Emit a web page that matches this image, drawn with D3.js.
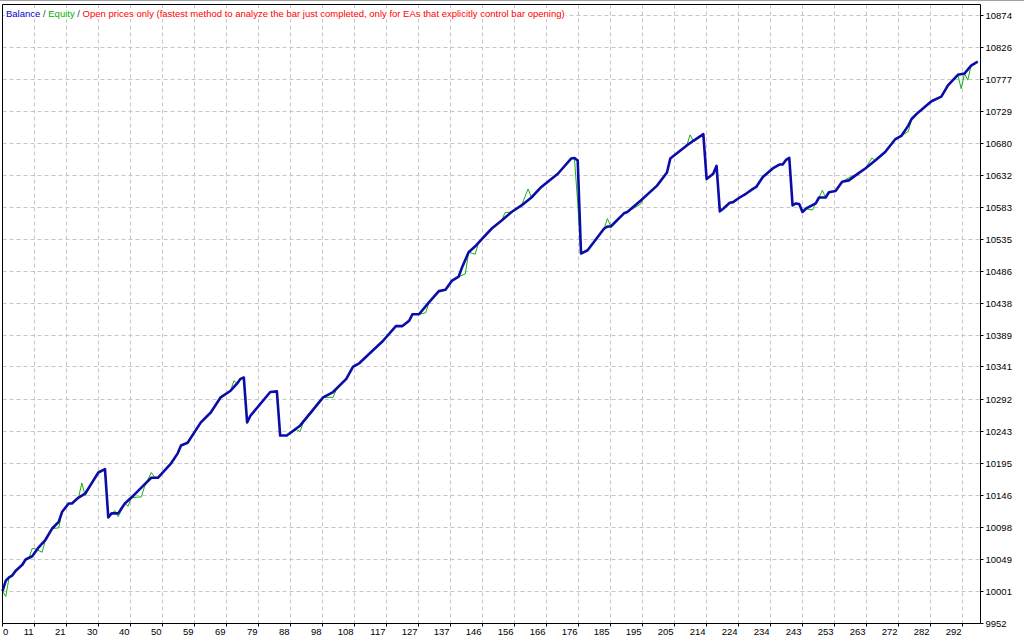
<!DOCTYPE html>
<html>
<head>
<meta charset="utf-8">
<script src="https://cdn.jsdelivr.net/npm/d3@7"></script>
<style>
  body { margin: 0; background: #fff; }
  svg { display: block; }
  text { font-family: "Liberation Sans", Arial, sans-serif; }
</style>
</head>
<body>
<svg id="chart" width="1024" height="640"></svg>
<script>
// balance curve (trade number, account balance)
const tradeNo = [0, 1, 2, 3, 4, 6, 7, 9, 11, 13, 15, 17, 18, 20, 21, 23, 25, 29, 31, 32,
  33, 35, 37, 39, 42, 45, 47, 51, 53, 54, 56, 60, 63, 66, 69, 71, 72, 73, 74, 75,
  81, 83, 84, 86, 90, 97, 100, 104, 106, 108, 112, 115, 119, 121, 123, 124, 126, 129, 132, 134,
  136, 138, 139, 141, 143, 145, 148, 151, 154, 157, 160, 163, 168, 172, 173, 174, 175, 177, 182, 183,
  184, 188, 189, 193, 198, 201, 202, 207, 209, 212, 213, 215, 216, 217, 218, 220, 221, 223, 225, 227,
  228, 230, 233, 235, 236, 237, 238, 239, 240, 241, 242, 243, 246, 247, 249, 250, 252, 254, 256, 259,
  261, 264, 267, 270, 272, 274, 275, 277, 278, 281, 284, 286, 289, 291, 293, 295];
const balance = [10001, 10017, 10022, 10025, 10032, 10041, 10049, 10054, 10068, 10079, 10096, 10106, 10121, 10134, 10134, 10143, 10149, 10181, 10186, 10113,
  10119, 10119, 10134, 10143, 10158, 10173, 10173, 10195, 10210, 10222, 10226, 10257, 10272, 10295, 10305, 10316, 10323, 10325, 10257, 10267,
  10303, 10304, 10237, 10237, 10252, 10295, 10303, 10323, 10341, 10347, 10366, 10380, 10403, 10403, 10411, 10421, 10421, 10439, 10456, 10458,
  10472, 10478, 10492, 10515, 10524, 10535, 10551, 10563, 10576, 10586, 10598, 10614, 10634, 10657, 10658, 10654, 10513, 10518, 10551, 10554,
  10554, 10574, 10576, 10593, 10616, 10636, 10657, 10677, 10684, 10694, 10626, 10634, 10646, 10577, 10581, 10590, 10591, 10598, 10604, 10611,
  10614, 10629, 10642, 10648, 10648, 10655, 10658, 10586, 10589, 10588, 10576, 10581, 10589, 10598, 10598, 10606, 10608, 10622, 10624, 10635,
  10642, 10654, 10667, 10686, 10692, 10707, 10717, 10727, 10731, 10744, 10751, 10768, 10784, 10786, 10798, 10804];

// equity curve (follows balance, with the floating dips and spikes)
const equityTradeNo = [0, 1, 2, 3, 4, 6, 7, 8, 9, 10, 12, 13, 15, 17, 18, 20, 21, 23, 24, 25,
  29, 31, 32, 33, 34, 35, 37, 38, 39, 42, 43, 45, 46, 47, 51, 53, 54, 56, 60, 63,
  66, 69, 70, 71, 72, 73, 74, 75, 81, 83, 84, 86, 89, 90, 91, 94, 95, 97, 100, 101,
  104, 106, 108, 112, 115, 119, 121, 123, 124, 126, 128, 129, 132, 134, 136, 138, 140, 141, 143, 144,
  145, 148, 151, 152, 154, 157, 159, 160, 163, 168, 172, 173, 174, 175, 177, 182, 183, 184, 188, 189,
  193, 194, 198, 201, 202, 207, 208, 209, 212, 213, 215, 216, 217, 218, 220, 221, 223, 225, 227, 228,
  230, 233, 235, 236, 237, 238, 239, 240, 241, 242, 243, 245, 246, 247, 248, 249, 250, 252, 254, 256,
  259, 261, 263, 264, 267, 270, 272, 274, 275, 277, 278, 281, 284, 286, 289, 290, 291, 292, 293, 295];
const equity = [10001, 9993, 10022, 10025, 10032, 10041, 10049, 10051, 10066, 10065, 10060, 10079, 10096, 10097, 10121, 10134, 10134, 10143, 10165, 10146,
  10181, 10186, 10113, 10119, 10123, 10114, 10134, 10130, 10143, 10144, 10160, 10181, 10174, 10173, 10195, 10210, 10222, 10226, 10257, 10272,
  10295, 10305, 10320, 10316, 10323, 10325, 10257, 10267, 10303, 10304, 10237, 10237, 10246, 10243, 10257, 10274, 10285, 10295, 10295, 10307,
  10323, 10341, 10347, 10366, 10380, 10403, 10403, 10411, 10421, 10421, 10423, 10439, 10456, 10458, 10472, 10478, 10482, 10515, 10512, 10530,
  10535, 10551, 10563, 10575, 10576, 10586, 10611, 10598, 10614, 10634, 10657, 10658, 10590, 10513, 10518, 10551, 10566, 10554, 10574, 10576,
  10588, 10598, 10616, 10636, 10657, 10677, 10693, 10684, 10694, 10626, 10634, 10646, 10577, 10581, 10590, 10591, 10598, 10604, 10611, 10614,
  10629, 10642, 10648, 10648, 10655, 10658, 10586, 10589, 10588, 10576, 10581, 10579, 10589, 10598, 10609, 10598, 10606, 10608, 10622, 10628,
  10635, 10642, 10658, 10654, 10667, 10686, 10692, 10698, 10717, 10727, 10731, 10744, 10751, 10768, 10784, 10763, 10786, 10776, 10798, 10804];

const yTickLabels = [9952, 10001, 10049, 10098, 10146, 10195, 10243, 10292, 10341, 10389,
  10438, 10486, 10535, 10583, 10632, 10680, 10729, 10777, 10826, 10874];
const xTickLabels = [0, 11, 21, 30, 40, 50, 59, 69, 79, 88, 98, 108, 117, 127, 137, 146,
  156, 166, 176, 185, 195, 205, 214, 224, 234, 243, 253, 263, 272, 282, 292];

const svg = d3.select('#chart');

const plotLeft = 2.5, plotRight = 980.5, plotTop = 4.5, plotBottom = 623.5;
const gridStep = 9.68; // trades between two vertical gridlines (32px)

const x = d3.scaleLinear().domain([0, 296]).range([plotLeft, plotLeft + 296 * 32 / gridStep]);
const y = d3.scaleLinear().domain([9952, 10874]).range([plotBottom, 15.5]);
const snap = v => Math.round(v - 0.5) + 0.5;
const xTickPos = xTickLabels.map((d, i) => i * gridStep);

// window strip at the very top
svg.append('rect').attr('width', 1024).attr('height', 1).attr('fill', '#a0a0a0');

// grid
const grid = svg.append('g')
  .attr('stroke', '#c6c6c6')
  .attr('stroke-dasharray', '4,3')
  .attr('fill', 'none');
grid.selectAll('line.h')
  .data(yTickLabels.slice(1))
  .join('line')
    .attr('class', 'h')
    .attr('x1', plotLeft).attr('x2', plotRight)
    .attr('y1', d => snap(y(d))).attr('y2', d => snap(y(d)));
grid.selectAll('line.v')
  .data(xTickPos.slice(1))
  .join('line')
    .attr('class', 'v')
    .attr('x1', d => snap(x(d))).attr('x2', d => snap(x(d)))
    .attr('y1', plotTop).attr('y2', plotBottom);

// curves
const line = d3.line()
  .x(d => x(d[0]))
  .y(d => y(d[1]));

svg.append('path')
  .datum(d3.zip(equityTradeNo, equity))
  .attr('fill', 'none')
  .attr('stroke', '#17b017')
  .attr('stroke-width', 1)
  .attr('d', line);

svg.append('path')
  .datum(d3.zip(tradeNo, balance))
  .attr('fill', 'none')
  .attr('stroke', '#0c0ca8')
  .attr('stroke-width', 2.6)
  .attr('stroke-linejoin', 'round')
  .attr('d', line);

// frame
svg.append('path')
  .attr('fill', 'none')
  .attr('stroke', '#000')
  .attr('d', `M${plotLeft},${plotBottom}V${plotTop}H${plotRight}V${plotBottom}H${plotLeft}`);

// axes
const yAxis = svg.append('g')
  .attr('transform', `translate(${plotRight},0)`)
  .call(d3.axisRight(y).tickValues(yTickLabels).tickFormat(d3.format('d'))
    .tickSize(3).tickPadding(2).tickSizeOuter(0).offset(0));
yAxis.select('.domain').remove();
yAxis.selectAll('.tick').attr('transform', d => `translate(0,${snap(y(d))})`);

const xAxis = svg.append('g')
  .attr('transform', `translate(0,${plotBottom})`)
  .call(d3.axisBottom(x).tickValues(xTickPos).tickFormat((d, i) => xTickLabels[i])
    .tickSize(3).tickPadding(2).tickSizeOuter(0).offset(0));
xAxis.select('.domain').remove();
xAxis.selectAll('.tick').attr('transform', d => `translate(${snap(x(d))},0)`);
xAxis.selectAll('.tick text')
  .attr('text-anchor', (d, i) => i === 0 ? 'start' : 'end')
  .attr('x', (d, i) => i === 0 ? 0.5 : -1);

svg.selectAll('.tick line').attr('stroke', '#000');
svg.selectAll('.tick text')
  .attr('fill', '#000')
  .attr('font-family', '"Liberation Sans", Arial, sans-serif')
  .attr('font-size', 9.5);
yAxis.attr('font-family', null).attr('font-size', null);
xAxis.attr('font-family', null).attr('font-size', null);

// legend
const legendBg = svg.append('rect').attr('fill', '#fff');
const legend = svg.append('text')
  .attr('x', 6)
  .attr('y', 17)
  .attr('font-size', 9.5);
legend.append('tspan').attr('fill', '#0000c8').text('Balance');
legend.append('tspan').attr('fill', '#404040').text(' / ');
legend.append('tspan').attr('fill', '#00b000').text('Equity');
legend.append('tspan').attr('fill', '#404040').text(' / ');
legend.append('tspan').attr('fill', '#ff0000')
  .text('Open prices only (fastest method to analyze the bar just completed, only for EAs that explicitly control bar opening)');

const bb = legend.node().getBBox();
legendBg.attr('x', bb.x - 1).attr('y', bb.y).attr('width', bb.width + 2).attr('height', bb.height);
</script>
</body>
</html>
